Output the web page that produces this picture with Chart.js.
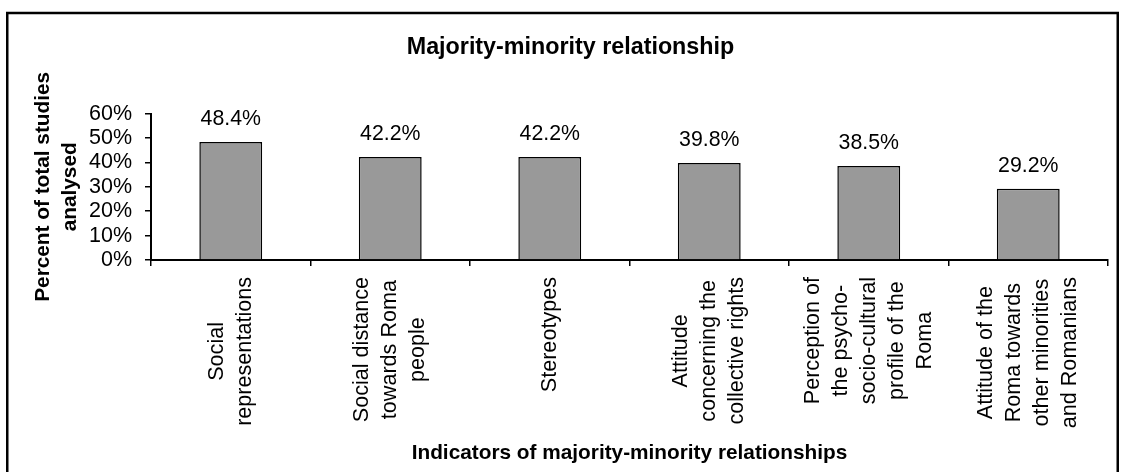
<!DOCTYPE html>
<html><head><meta charset="utf-8">
<script src="https://cdn.jsdelivr.net/npm/chart.js@4.4.0/dist/chart.umd.min.js"></script>
<style>html,body{margin:0;padding:0;background:#fff;} canvas{display:block;}</style>
</head><body>
<canvas id="c" width="1121" height="472"></canvas>
<script>
// ---- data ----
const categories = [
  ['Social', 'representations'],
  ['Social distance', 'towards Roma', 'people'],
  ['Stereotypes'],
  ['Attitude', 'concerning the', 'collective rights'],
  ['Perception of', 'the psycho-', 'socio-cultural', 'profile of the', 'Roma'],
  ['Attitude of the', 'Roma towards', 'other minorities', 'and Romanians']
];
const percentValues = [48.4, 42.2, 42.2, 39.8, 38.5, 29.2];
const yTickMin = 0;
const yTickMax = 60;
const yTickStep = 10;
const chartTitle = 'Majority-minority relationship';
const xAxisTitle = 'Indicators of majority-minority relationships';
const yAxisTitle = ['Percent of total studies', 'analysed'];

const FONT = 'Arial, "Liberation Sans", sans-serif';

const framePlugin = {
  id: 'frame',
  beforeDraw(chart) {
    const ctx = chart.ctx;
    ctx.save();
    ctx.fillStyle = '#ffffff';
    ctx.fillRect(0, 0, chart.width, chart.height);
    ctx.strokeStyle = '#000000';
    ctx.lineWidth = 2.5;
    ctx.strokeRect(7.25, 13, 1110.5, 490);
    ctx.restore();
  }
};

const valueLabelPlugin = {
  id: 'valueLabels',
  afterDatasetsDraw(chart) {
    const ctx = chart.ctx;
    const meta = chart.getDatasetMeta(0);
    ctx.save();
    ctx.font = '21.3px ' + FONT;
    ctx.fillStyle = '#000';
    ctx.textAlign = 'center';
    ctx.textBaseline = 'alphabetic';
    meta.data.forEach((bar, i) => {
      ctx.fillText(percentValues[i].toFixed(1) + '%', bar.x, bar.y - 17);
    });
    ctx.restore();
  }
};

const catLabelPlugin = {
  id: 'catLabels',
  afterDraw(chart) {
    const ctx = chart.ctx;
    const xs = chart.scales.x;
    const topY = 277;
    const lh = 28;
    ctx.save();
    ctx.font = '21.6px ' + FONT;
    ctx.fillStyle = '#000';
    ctx.textAlign = 'center';
    ctx.textBaseline = 'middle';
    categories.forEach((lines, i) => {
      const px = xs.getPixelForValue(i);
      const w = Math.max(...lines.map(l => ctx.measureText(l).width));
      ctx.save();
      ctx.translate(px, topY);
      ctx.rotate(-Math.PI / 2);
      lines.forEach((l, j) => {
        ctx.fillText(l, -w / 2, (j - (lines.length - 1) / 2) * lh);
      });
      ctx.restore();
    });
    ctx.restore();
  }
};

new Chart(document.getElementById('c'), {
  type: 'bar',
  data: {
    labels: categories,
    datasets: [{
      data: percentValues,
      backgroundColor: '#999999',
      borderColor: '#000000',
      borderWidth: 1.5,
      barPercentage: 0.394,
      categoryPercentage: 1.0
    }]
  },
  options: {
    responsive: false,
    animation: false,
    layout: { padding: { left: 33, right: 13, top: 0, bottom: 0 } },
    plugins: {
      legend: { display: false },
      tooltip: { enabled: false },
      title: {
        display: true,
        text: chartTitle,
        color: '#000',
        font: { family: FONT, size: 23.3, weight: 'bold', lineHeight: 1.2 },
        padding: { top: 33.2, bottom: 52.5 }
      }
    },
    scales: {
      x: {
        grid: { drawOnChartArea: false, color: '#000', lineWidth: 1.5, tickLength: 6, offset: true },
        border: { color: '#000', width: 2 },
        ticks: { display: false },
        title: {
          display: true,
          text: xAxisTitle,
          color: '#000',
          font: { family: FONT, size: 20.8, weight: 'bold', lineHeight: 1.2 },
          padding: { top: 0, bottom: 6 }
        },
        afterFit(scale) { scale.height = 212; }
      },
      y: {
        min: yTickMin,
        max: yTickMax,
        grid: { drawOnChartArea: false, color: '#000', lineWidth: 1.5, tickLength: 6 },
        border: { color: '#000', width: 2 },
        ticks: {
          stepSize: yTickStep,
          autoSkip: false,
          color: '#000',
          padding: 13,
          font: { family: FONT, size: 21.5, lineHeight: 1.0 },
          callback: v => v + '%'
        },
        title: {
          display: true,
          text: yAxisTitle,
          color: '#000',
          font: { family: FONT, size: 20.8, weight: 'bold', lineHeight: 1.3 },
          padding: { top: -3.5, bottom: 0 }
        },
        afterFit(scale) { scale.width = 118; }
      }
    }
  },
  plugins: [framePlugin, valueLabelPlugin, catLabelPlugin]
});
</script>
</body></html>
